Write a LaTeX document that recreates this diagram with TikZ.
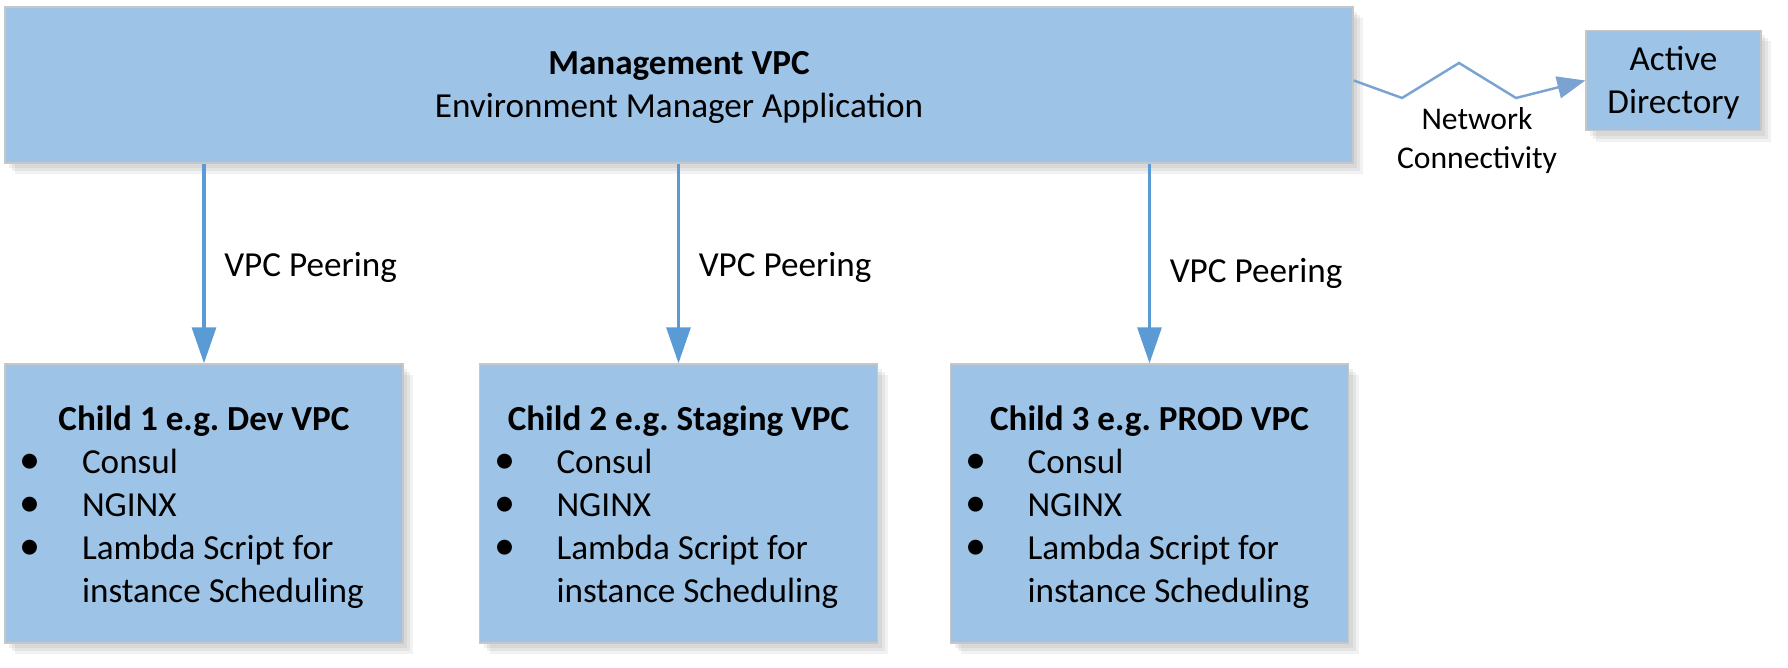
\documentclass[tikz,border=0pt]{standalone}
\usepackage{fontspec}
\setmainfont{Carlito}
\usepackage{xcolor}
\usetikzlibrary{positioning,arrows.meta,shadows}
\frenchspacing

\definecolor{vpcfill}{HTML}{9DC3E6}
\definecolor{peerblue}{HTML}{5B9BD5}
\definecolor{netblue}{HTML}{7AA3D2}

\tikzset{
  vpcbox/.style={draw=black!22, line width=0.4pt, fill=vpcfill,
    drop shadow={shadow xshift=0.04cm, shadow yshift=-0.05cm, opacity=0.12},
    drop shadow={shadow xshift=0.07cm, shadow yshift=-0.08cm, opacity=0.12},
    drop shadow={shadow xshift=0.10cm, shadow yshift=-0.11cm, opacity=0.10}},
  peerarrow/.style={-{Triangle[length=0.36cm, width=0.24cm]}, line width=0.9pt, peerblue},
  netline/.style={-{Triangle[length=0.28cm, width=0.22cm]}, line width=0.7pt, netblue},
}
\newcommand{\vpcitem}[1]{\makebox[0.62cm][l]{\fontsize{12}{12}\selectfont\textbullet}#1}
\newcommand{\vstrut}[1][9pt]{\rule{0pt}{#1}}

\begin{document}
\begin{tikzpicture}[font=\fontsize{10}{12.2}\selectfont]
\useasboundingbox (0,0) rectangle (17.88,-6.68);
% management vpc on top
\node[vpcbox, minimum width=13.48cm, minimum height=1.56cm, align=center] (mgmt) at (6.79,-0.85)
  {\vstrut[8.2pt]\textbf{Management VPC}\\Environment Manager Application};
\node[vpcbox, minimum width=1.75cm, minimum height=0.95cm, align=center] (ad) at (16.735,-0.805)
  {\vstrut[8pt]Active\\Directory};
% network link to the directory
\draw[netline] (mgmt.east |- ad.west) -- (14.02,-0.98) -- (14.59,-0.63) -- (15.16,-0.98) -- (ad.west);
\node[font=\fontsize{9}{11.1}\selectfont, align=center] (netlbl) at (14.77,-1.37)
  {\vstrut[8.5pt]Network\\Connectivity};
% child vpcs with peering
\foreach \i/\x/\env/\p in {1/2.04/Dev/0.5, 2/6.785/Staging/0.5, 3/11.495/PROD/0.53} {
  \node[vpcbox, minimum width=3.98cm, minimum height=2.79cm, text width=3.68cm, inner xsep=0.15cm, align=flush left] (c\i) at (\x,-5.035)
    {\makebox[\hsize]{\vstrut\textbf{Child \i{} e.g. \env{} VPC}}\\
     \vpcitem{Consul}\\
     \vpcitem{NGINX}\\
     \vpcitem{Lambda Script for}\\
     \hspace*{0.62cm}instance Scheduling};
  \draw[peerarrow] (mgmt.south -| c\i.north) -- node[pos=\p, anchor=west, xshift=0.07cm, yshift=-0.035cm, text=black] (p\i) {VPC Peering} (c\i.north);
}
\end{tikzpicture}
\end{document}
